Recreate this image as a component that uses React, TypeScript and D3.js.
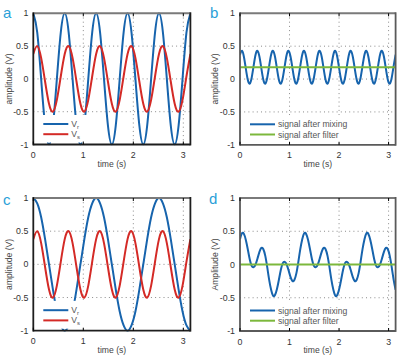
import React from "react";
import * as d3 from "d3";

// ---------- data ----------
const X_TICKS = [0, 1, 2, 3];
const Y_TICKS = [-1, -0.5, 0, 0.5, 1];
const Y_TICK_LABELS = ["-1", "-0.5", "0", "0.5", "1"];

// time grids (s): coarse step pi/40, fine step pi/80, both from 0 to pi
const TIME_COARSE = d3.range(41).map((k) => (k * Math.PI) / 40);
const TIME_FINE = d3.range(81).map((k) => (k * Math.PI) / 80);

// panel a: reference signal Vr (fast) and signal Vs
const VR_A = [
  1, 0.71, 0, -0.71, -1, -0.71, 0, 0.71,
  1, 0.71, 0, -0.71, -1, -0.71, 0, 0.71,
  1, 0.71, 0, -0.71, -1, -0.71, 0, 0.71,
  1, 0.71, 0, -0.71, -1, -0.71, 0, 0.71,
  1, 0.71, 0, -0.71, -1, -0.71, 0, 0.71,
  1,
];
const VS = [
  0.38, 0.5, 0.32, -0.04, -0.38, -0.5, -0.32, 0.04,
  0.38, 0.5, 0.32, -0.04, -0.38, -0.5, -0.32, 0.04,
  0.38, 0.5, 0.32, -0.04, -0.38, -0.5, -0.32, 0.04,
  0.38, 0.5, 0.32, -0.04, -0.38, -0.5, -0.32, 0.04,
  0.38, 0.5, 0.32, -0.04, -0.38, -0.5, -0.32, 0.04,
  0.38,
];
// panel b: signal after mixing, signal after filter
const MIX_B = [
  0.37, 0.43, 0.34, 0.16, -0.01, -0.07, 0.02, 0.2,
  0.37, 0.43, 0.34, 0.16, -0.01, -0.07, 0.02, 0.2,
  0.37, 0.43, 0.34, 0.16, -0.01, -0.07, 0.02, 0.2,
  0.37, 0.43, 0.34, 0.16, -0.01, -0.07, 0.02, 0.2,
  0.37, 0.43, 0.34, 0.16, -0.01, -0.07, 0.02, 0.2,
  0.37, 0.43, 0.34, 0.16, -0.01, -0.07, 0.02, 0.2,
  0.37, 0.43, 0.34, 0.16, -0.01, -0.07, 0.02, 0.2,
  0.37, 0.43, 0.34, 0.16, -0.01, -0.07, 0.02, 0.2,
  0.37, 0.43, 0.34, 0.16, -0.01, -0.07, 0.02, 0.2,
  0.37, 0.43, 0.34, 0.16, -0.01, -0.07, 0.02, 0.2,
  0.37,
];
const FILTER_B = [0.18, 0.18];
// panel c: reference signal Vr (slow) and signal Vs
const VR_C = [
  1, 0.92, 0.71, 0.38, 0, -0.38, -0.71, -0.92,
  -1, -0.92, -0.71, -0.38, 0, 0.38, 0.71, 0.92,
  1, 0.92, 0.71, 0.38, 0, -0.38, -0.71, -0.92,
  -1, -0.92, -0.71, -0.38, 0, 0.38, 0.71, 0.92,
  1, 0.92, 0.71, 0.38, 0, -0.38, -0.71, -0.92,
  -1,
];
// panel d: signal after mixing, signal after filter
const MIX_D = [
  0.38, 0.47, 0.46, 0.37, 0.23, 0.08, -0.02, -0.04,
  0, 0.09, 0.19, 0.25, 0.23, 0.13, -0.04, -0.23,
  -0.38, -0.47, -0.46, -0.37, -0.23, -0.08, 0.02, 0.04,
  0, -0.09, -0.19, -0.25, -0.23, -0.13, 0.04, 0.23,
  0.38, 0.47, 0.46, 0.37, 0.23, 0.08, -0.02, -0.04,
  0, 0.09, 0.19, 0.25, 0.23, 0.13, -0.04, -0.23,
  -0.38, -0.47, -0.46, -0.37, -0.23, -0.08, 0.02, 0.04,
  0, -0.09, -0.19, -0.25, -0.23, -0.13, 0.04, 0.23,
  0.38, 0.47, 0.46, 0.37, 0.23, 0.08, -0.02, -0.04,
  0, 0.09, 0.19, 0.25, 0.23, 0.13, -0.04, -0.23,
  -0.38,
];
const FILTER_D = [0, 0];

// ---------- style ----------
const BLUE = "#1764ad";
const RED = "#d42a26";
const GREEN = "#7cb83c";
const LETTER = "#2a9fd8";
const FONT = "'Liberation Sans', Arial, sans-serif";

type Series = { t: number[]; v: number[]; color: string };
type Panel = {
  id: string;
  letter: string;
  lx: number;
  ly: number;
  x0: number;
  x1: number;
  yTop: number;
  yBot: number;
  ylab: string;
  ylabX: number;
  dark: boolean;
  series: Series[];
  legend: { label: React.ReactNode; color: string }[];
  legendW: number;
};

const panels: Panel[] = [
  {
    id: "a", letter: "a", lx: 3, ly: 18,
    x0: 33.3, x1: 190.4, yTop: 13.3, yBot: 144.5,
    ylab: "amplitude (V)", ylabX: 8.5, dark: true,
    series: [
      { t: TIME_COARSE, v: VR_A, color: BLUE },
      { t: TIME_COARSE, v: VS, color: RED },
    ],
    legend: [
      { label: <>V<tspan fontSize={6} dy={2}>r</tspan></>, color: BLUE },
      { label: <>V<tspan fontSize={6} dy={2}>s</tspan></>, color: RED },
    ],
    legendW: 58,
  },
  {
    id: "b", letter: "b", lx: 210, ly: 18,
    x0: 240, x1: 395.6, yTop: 13.3, yBot: 144.8,
    ylab: "amplitude (V)", ylabX: 214.5, dark: false,
    series: [
      { t: TIME_FINE, v: MIX_B, color: BLUE },
      { t: [0, Math.PI], v: FILTER_B, color: GREEN },
    ],
    legend: [
      { label: "signal after mixing", color: BLUE },
      { label: "signal after filter", color: GREEN },
    ],
    legendW: 112,
  },
  {
    id: "c", letter: "c", lx: 3, ly: 205,
    x0: 33.3, x1: 190.4, yTop: 198, yBot: 330.7,
    ylab: "amplitude (V)", ylabX: 8.5, dark: true,
    series: [
      { t: TIME_COARSE, v: VR_C, color: BLUE },
      { t: TIME_COARSE, v: VS, color: RED },
    ],
    legend: [
      { label: <>V<tspan fontSize={6} dy={2}>r</tspan></>, color: BLUE },
      { label: <>V<tspan fontSize={6} dy={2}>s</tspan></>, color: RED },
    ],
    legendW: 58,
  },
  {
    id: "d", letter: "d", lx: 209, ly: 204,
    x0: 240, x1: 395.6, yTop: 198, yBot: 331,
    ylab: "Amplitude (V)", ylabX: 214.5, dark: false,
    series: [
      { t: TIME_FINE, v: MIX_D, color: BLUE },
      { t: [0, Math.PI], v: FILTER_D, color: GREEN },
    ],
    legend: [
      { label: "signal after mixing", color: BLUE },
      { label: "signal after filter", color: GREEN },
    ],
    legendW: 112,
  },
];

function PanelView({ p }: { p: Panel }) {
  const x = d3.scaleLinear().domain([0, Math.PI]).range([p.x0, p.x1]);
  const y = d3.scaleLinear().domain([-1, 1]).range([p.yBot, p.yTop]);
  const line = d3
    .line<[number, number]>()
    .x((d) => x(d[0]))
    .y((d) => y(d[1]))
    .curve(d3.curveNatural);
  const spineDark = p.dark ? "#1e1e1e" : "#5a5a5a";
  const clipId = `clip-${p.id}`;
  const legendTop = y(-0.55);
  const legendBot = p.yBot - 2;
  const legYs = [p.yBot - 20.5, p.yBot - 10.3];
  return (
    <g fontFamily={FONT}>
      <defs>
        <clipPath id={clipId}>
          <rect x={p.x0} y={p.yTop - 1} width={p.x1 - p.x0} height={p.yBot - p.yTop + 2} />
        </clipPath>
      </defs>
      {/* grid */}
      {X_TICKS.filter((t) => t > 0).map((t) => (
        <line key={`gx${t}`} x1={x(t)} x2={x(t)} y1={p.yTop} y2={p.yBot}
          stroke="#8a8a8a" strokeWidth={1} strokeDasharray="1,3.2" />
      ))}
      {[-0.5, 0, 0.5].map((v) => (
        <line key={`gy${v}`} x1={p.x0} x2={p.x1} y1={y(v)} y2={y(v)}
          stroke="#8a8a8a" strokeWidth={1} strokeDasharray="1,3.2" />
      ))}
      {/* curves */}
      <g clipPath={`url(#${clipId})`}>
        {p.series.map((s, i) => (
          <path key={i}
            d={line(s.t.map((t, j) => [t, s.v[j]] as [number, number])) || ""}
            fill="none" stroke={s.color} strokeWidth={2} />
        ))}
      </g>
      {/* legend */}
      <rect x={p.x0 + 1.2} y={legendTop} width={p.legendW} height={legendBot - legendTop} fill="#fff" />
      {p.legend.map((l, i) => (
        <g key={i}>
          <line x1={p.x0 + 10} x2={p.x0 + 35} y1={legYs[i]} y2={legYs[i]} stroke={l.color} strokeWidth={2} />
          <text x={p.x0 + 38} y={legYs[i]} dy="0.35em" fontSize={8.6} fill="#555">{l.label}</text>
        </g>
      ))}
      {/* spines */}
      <line x1={p.x0} x2={p.x1} y1={p.yTop} y2={p.yTop} stroke="#7a7a7a" strokeWidth={2} />
      <line x1={p.x0} x2={p.x1} y1={p.yBot} y2={p.yBot} stroke={spineDark} strokeWidth={1.8} />
      <line x1={p.x0} x2={p.x0} y1={p.yTop - 1} y2={p.yBot + 0.9} stroke={spineDark} strokeWidth={1.8} />
      <line x1={p.x1} x2={p.x1} y1={p.yTop - 1} y2={p.yBot + 0.9} stroke={spineDark} strokeWidth={1.8} />
      {/* ticks */}
      {X_TICKS.map((t) => (
        <g key={`tx${t}`}>
          <line x1={x(t)} x2={x(t)} y1={p.yBot} y2={p.yBot - 3} stroke="#000" strokeWidth={1} />
          <line x1={x(t)} x2={x(t)} y1={p.yTop} y2={p.yTop + 3} stroke="#000" strokeWidth={1} />
          <text x={x(t)} y={p.yBot + 10.5} dy="0.35em" textAnchor="middle" fontSize={8.8} fill="#333">{t}</text>
        </g>
      ))}
      {Y_TICKS.map((v, i) => (
        <text key={`ty${v}`} x={p.x0 - 5} y={y(v)} dy="0.35em" textAnchor="end" fontSize={8.8} fill="#333">
          {Y_TICK_LABELS[i]}
        </text>
      ))}
      {/* axis labels */}
      <text x={(p.x0 + p.x1) / 2} y={p.yBot + 19} dy="0.35em" textAnchor="middle" fontSize={8.6} fill="#444">time (s)</text>
      <text transform={`translate(${p.ylabX},${(p.yTop + p.yBot) / 2}) rotate(-90)`} dy="0.35em"
        textAnchor="middle" fontSize={8.6} fill="#444">{p.ylab}</text>
      {/* panel letter */}
      <text x={p.lx} y={p.ly} fontSize={15} fill={LETTER}>{p.letter}</text>
    </g>
  );
}

export default function App() {
  return (
    <svg width={398} height={358} style={{ position: "absolute", left: 0, top: 0, background: "#fff" }}>
      <rect width={398} height={358} fill="#fff" />
      {panels.map((p) => (
        <PanelView key={p.id} p={p} />
      ))}
    </svg>
  );
}
